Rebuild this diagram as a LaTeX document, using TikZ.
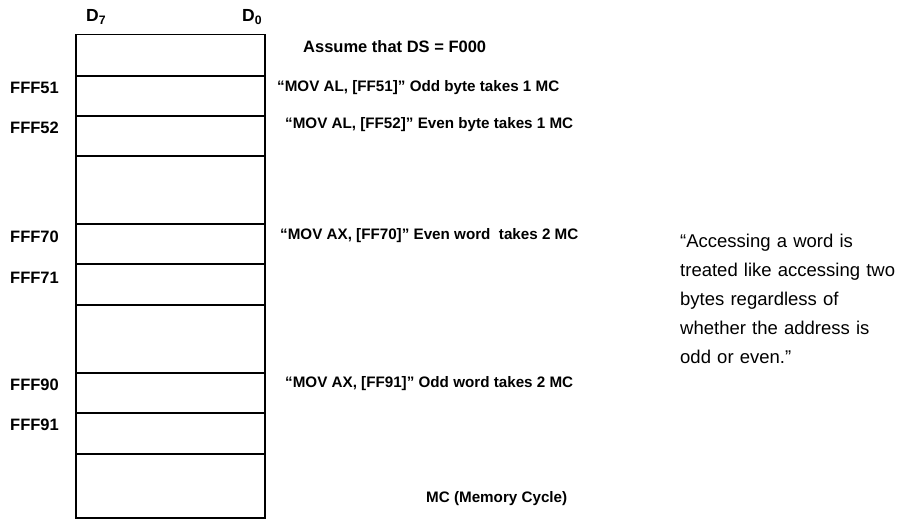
\documentclass[tikz,border=0pt]{standalone}
\usepackage{fontspec}
\setmainfont{Liberation Sans}
\usetikzlibrary{positioning}

\begin{document}
\begin{tikzpicture}[
        x=1pt, y=-1pt,
        memCell/.style={
            draw=black,
            line width=1.5pt,
            minimum width=189pt,
            inner sep=0pt
        },
        addrLabel/.style={
            anchor=west,
            inner sep=0pt,
            font=\fontsize{16.5}{19}\selectfont\bfseries
        },
        bitLabel/.style={
            anchor=base west,
            inner sep=0pt,
            font=\fontsize{17.5}{20}\selectfont\bfseries
        },
        instrNote/.style={
            anchor=base west,
            inner sep=0pt,
            font=\fontsize{15.2}{18}\selectfont\bfseries
        },
        sideNote/.style={
            anchor=base west,
            align=left,
            text width=225pt,
            inner sep=0pt,
            font=\fontsize{18.5}{28.8}\selectfont
        }
    ]
    \useasboundingbox (0,0) rectangle (897,521);

    % Memory column
    \foreach \name/\ytop/\ybot in {m0/34.5/76, m51/76/116, m52/116/156, m1/156/224, m70/224/264,
                                   m71/264/305, m2/305/373, m90/373/413, m91/413/454, m3/454/518}
        \node[memCell, minimum height={(\ybot-\ytop)*1pt}] (\name) at (170.5, {(\ytop+\ybot)/2}) {};

    % Bit labels
    \node[bitLabel] (d7) at (86, 22) {D\textsubscript{7}};
    \node[bitLabel] (d0) at (242, 22) {D\textsubscript{0}};

    % Addresses
    \node[addrLabel] (a51) at (10, 88) {FFF51};
    \node[addrLabel] (a52) at (10, 127.5) {FFF52};
    \node[addrLabel] (a70) at (10, 236.5) {FFF70};
    \node[addrLabel] (a71) at (10, 277.5) {FFF71};
    \node[addrLabel] (a90) at (10, 384.5) {FFF90};
    \node[addrLabel] (a91) at (10, 424.5) {FFF91};

    % Instructions
    \node[instrNote, font=\fontsize{16.5}{19}\selectfont\bfseries] (ds) at (303, 52.5) {Assume that DS = F000};
    \node[instrNote] (i51) at (277, 92) {“MOV AL, [FF51]” Odd byte takes 1 MC};
    \node[instrNote] (i52) at (285, 129) {“MOV AL, [FF52]” Even byte takes 1 MC};
    \node[instrNote] (i70) at (280, 240) {“MOV AX, [FF70]” Even word\ \ takes 2 MC};
    \node[instrNote] (i91) at (285, 387.5) {“MOV AX, [FF91]” Odd word takes 2 MC};
    \node[instrNote] (mc) at (426, 502.5) {MC (Memory Cycle)};

    % Side remark
    \node[sideNote] (remark) at (680, 248) {“Accessing a word is\\ treated like accessing two\\ bytes regardless of\\ whether the address is\\ odd or even.”};
\end{tikzpicture}
\end{document}
